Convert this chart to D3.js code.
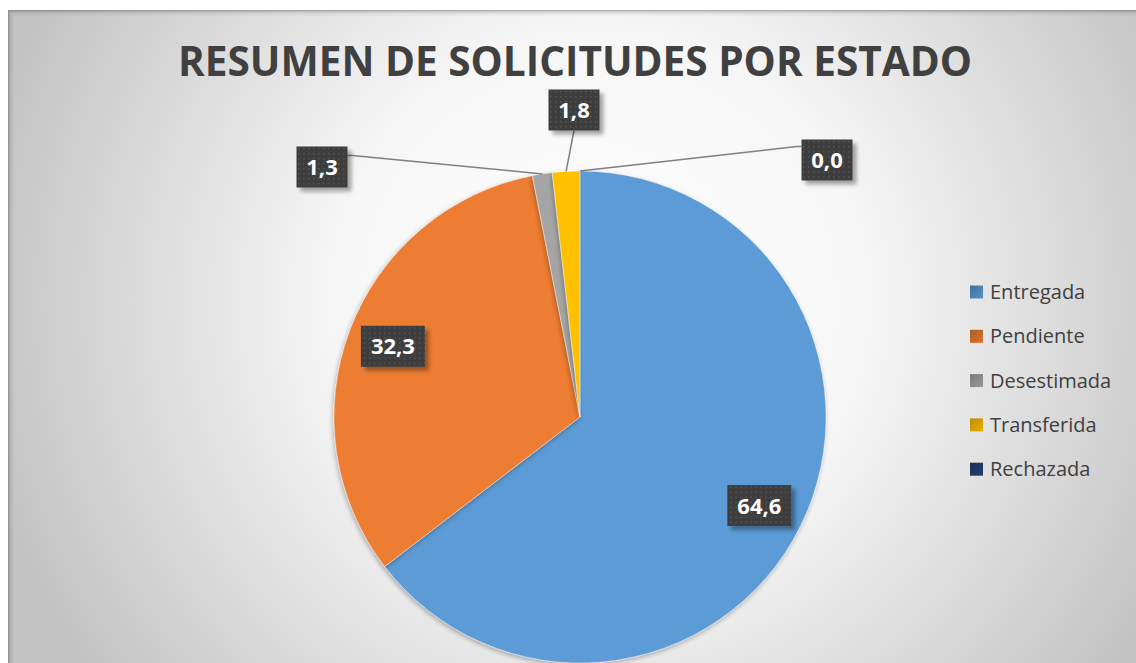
<!DOCTYPE html>
<html>
<head>
<meta charset="utf-8">
<script src="https://cdn.jsdelivr.net/npm/d3@7"></script>
<style>
  html, body { margin: 0; padding: 0; background: #fff; }
  svg { display: block; }
</style>
</head>
<body>
<div id="chart"></div>
<script>
// data
const categories = ["Entregada", "Pendiente", "Desestimada", "Transferida", "Rechazada"];
const values = [64.6, 32.3, 1.3, 1.8, 0.0];
const colors = ["#5B9BD5", "#ED7D31", "#A5A5A5", "#FFC000", "#264478"];
const chartTitle = "RESUMEN DE SOLICITUDES POR ESTADO";

// label boxes placed by hand outside the pie (null = inside, on the slice)
const labelSpots = [null, null, { x: 322, y: 167 }, { x: 574, y: 110 }, { x: 827, y: 160 }];

const width = 1136, height = 663;
const cx = 580, cy = 417, radius = 246;

const svg = d3.select("#chart").append("svg")
  .attr("width", width)
  .attr("height", height);

const defs = svg.append("defs");

const bg = defs.append("radialGradient")
  .attr("id", "bg")
  .attr("gradientUnits", "userSpaceOnUse")
  .attr("cx", 600).attr("cy", 300).attr("r", 640);
bg.append("stop").attr("offset", 0).attr("stop-color", "#ffffff");
bg.append("stop").attr("offset", 0.42).attr("stop-color", "#f6f6f6");
bg.append("stop").attr("offset", 1).attr("stop-color", "#c2c2c2");

const shadow = defs.append("filter").attr("id", "shadow")
  .attr("x", "-20%").attr("y", "-20%").attr("width", "150%").attr("height", "150%");
shadow.append("feGaussianBlur").attr("in", "SourceAlpha").attr("stdDeviation", 2).attr("result", "blur");
shadow.append("feOffset").attr("in", "blur").attr("dx", 4).attr("dy", 4).attr("result", "off");
shadow.append("feComponentTransfer").attr("in", "off").attr("result", "soft")
  .append("feFuncA").attr("type", "linear").attr("slope", 0.35);
const m1 = shadow.append("feMerge");
m1.append("feMergeNode").attr("in", "soft");
m1.append("feMergeNode").attr("in", "SourceGraphic");

const sliceShadow = defs.append("filter").attr("id", "sliceShadow")
  .attr("x", "-10%").attr("y", "-10%").attr("width", "120%").attr("height", "120%");
sliceShadow.append("feGaussianBlur").attr("in", "SourceAlpha").attr("stdDeviation", 2.5).attr("result", "blur");
sliceShadow.append("feOffset").attr("in", "blur").attr("dx", -1).attr("dy", 2).attr("result", "off");
sliceShadow.append("feComponentTransfer").attr("in", "off").attr("result", "soft")
  .append("feFuncA").attr("type", "linear").attr("slope", 0.3);
const m2 = sliceShadow.append("feMerge");
m2.append("feMergeNode").attr("in", "soft");
m2.append("feMergeNode").attr("in", "SourceGraphic");

// dotted texture for the label boxes
const pat = defs.append("pattern").attr("id", "dots")
  .attr("patternUnits", "userSpaceOnUse").attr("width", 5).attr("height", 5);
pat.append("rect").attr("width", 5).attr("height", 5).attr("fill", "#3d3d3d");
pat.append("rect").attr("x", 1).attr("y", 1).attr("width", 1.5).attr("height", 1.5).attr("fill", "#575757");

// legend swatch gradients
colors.forEach((c, i) => {
  const g = defs.append("linearGradient").attr("id", "sw" + i)
    .attr("x1", 0).attr("y1", 0).attr("x2", 1).attr("y2", 1);
  g.append("stop").attr("offset", 0).attr("stop-color", d3.color(c).darker(0.9));
  g.append("stop").attr("offset", 1).attr("stop-color", d3.color(c).darker(0.2));
});

// frame
svg.append("rect")
  .attr("x", 8).attr("y", 10)
  .attr("width", width + 10).attr("height", height + 10)
  .attr("fill", "url(#bg)");
// soft inner edge
[0, 1, 2, 3, 4, 5].forEach(k => {
  svg.append("rect")
    .attr("x", 8 + k + 0.5).attr("y", 10 + k + 0.5)
    .attr("width", width + 10).attr("height", height + 10)
    .attr("fill", "none")
    .attr("stroke", "#5a5a5a")
    .attr("stroke-opacity", 0.45 * Math.pow(0.6, k));
});

// title
svg.append("text")
  .attr("x", 575).attr("y", 76)
  .attr("text-anchor", "middle")
  .attr("font-family", "'Open Sans', 'Liberation Sans', sans-serif")
  .attr("font-weight", 700)
  .attr("font-size", 42)
  .attr("fill", "#404040")
  .attr("textLength", 794)
  .attr("lengthAdjust", "spacingAndGlyphs")
  .text(chartTitle);

// pie
const data = categories.map((name, i) => ({ name, value: values[i], color: colors[i], spot: labelSpots[i] }));

const pie = d3.pie().sort(null).value(d => d.value);
const arc = d3.arc().innerRadius(0).outerRadius(radius);
const labelArc = d3.arc().innerRadius(200).outerRadius(200);
const edgeArc = d3.arc().innerRadius(radius).outerRadius(radius);

const arcs = pie(data);
const g = svg.append("g").attr("transform", `translate(${cx},${cy})`);

g.selectAll("path.slice")
  .data(arcs)
  .enter().append("path")
  .attr("class", "slice")
  .attr("d", arc)
  .attr("fill", d => d.data.color)
  .attr("stroke", "#ffffff")
  .attr("stroke-opacity", 0.5)
  .attr("stroke-width", 0.8)
  .attr("filter", "url(#sliceShadow)");

const fmt = v => v.toFixed(1).replace(".", ",");

// leader lines for outside labels
const boxH = 41;
const boxW = v => fmt(v).length > 3 ? 64 : 51;

arcs.forEach(a => {
  const s = a.data.spot;
  if (!s) return;
  const p = edgeArc.centroid(a);
  const ax = cx + p[0], ay = cy + p[1];
  const w = boxW(a.data.value);
  let ex, ey;
  if (s.x + w / 2 < ax - 40) { ex = s.x + w / 2; ey = s.y - boxH / 2 + 9; }
  else if (s.x - w / 2 > ax + 40) { ex = s.x - w / 2; ey = s.y - boxH / 2 + 7; }
  else { ex = s.x; ey = s.y + boxH / 2; }
  const hx = ex + (ex < ax - 40 ? 5 : ex > ax + 40 ? -5 : 0);
  svg.append("path")
    .attr("d", `M${ax},${ay}L${hx},${ey}L${ex},${ey}`)
    .attr("fill", "none")
    .attr("stroke", "#7f7f7f")
    .attr("stroke-width", 1.5);
});

// data labels
arcs.forEach(a => {
  let x, y;
  if (a.data.spot) { x = a.data.spot.x; y = a.data.spot.y; }
  else { const c = labelArc.centroid(a); x = cx + c[0]; y = cy + c[1]; }
  const w = boxW(a.data.value);
  const lg = svg.append("g").attr("transform", `translate(${x},${y})`);
  lg.append("rect")
    .attr("x", -w / 2).attr("y", -boxH / 2)
    .attr("width", w).attr("height", boxH)
    .attr("fill", "url(#dots)")
    .attr("filter", "url(#shadow)");
  lg.append("text")
    .attr("text-anchor", "middle")
    .attr("y", 8)
    .attr("font-family", "'Open Sans', sans-serif")
    .attr("font-weight", 700)
    .attr("font-size", 22)
    .attr("fill", "#ffffff")
    .text(fmt(a.data.value));
});

// legend
const legend = svg.append("g").attr("transform", "translate(970,292)");
const item = legend.selectAll("g")
  .data(data)
  .enter().append("g")
  .attr("transform", (d, i) => `translate(0,${i * 44.3})`);
item.append("rect")
  .attr("x", 0).attr("y", -6.5)
  .attr("width", 13).attr("height", 13)
  .attr("fill", (d, i) => `url(#sw${i})`);
item.append("text")
  .attr("x", 20).attr("y", 7)
  .attr("font-family", "'Open Sans', sans-serif")
  .attr("font-size", 20)
  .attr("fill", "#404040")
  .text(d => d.name);
</script>
</body>
</html>
